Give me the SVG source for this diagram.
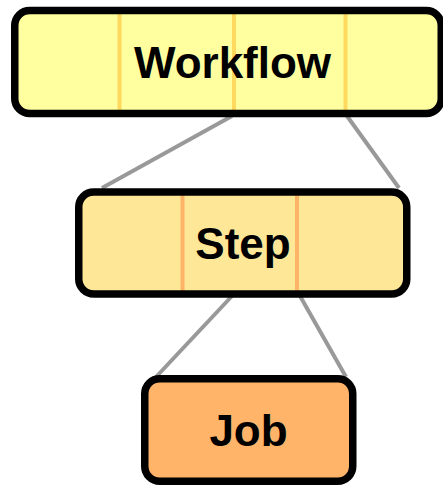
<svg xmlns="http://www.w3.org/2000/svg" width="443" height="486" viewBox="0 0 443 486">
  <style>
    .box { stroke: #000; stroke-width: 7.5; }
    .label { font-family: "Liberation Sans", Arial, sans-serif; font-weight: bold; font-size: 44px; fill: #000; text-anchor: middle; }
    .div-wf { stroke: #ffd95e; stroke-width: 4; }
    .div-step { stroke: #ffb366; stroke-width: 4; }
    .edge { stroke: #999; stroke-width: 4; fill: none; }
  </style>
  <rect width="443" height="486" fill="#fff"/>

  <!-- connectors between levels -->
  <g id="connectors">
    <line class="edge" x1="232" y1="116" x2="102" y2="188"/>
    <line class="edge" x1="347" y1="116" x2="399" y2="188"/>
    <line class="edge" x1="232" y1="296" x2="156" y2="377"/>
    <line class="edge" x1="300" y1="296" x2="346" y2="377"/>
  </g>

  <g id="workflow">
    <rect x="14.75" y="10.5" width="426.5" height="103" rx="15" fill="#ffffa0" stroke="none"/>
    <line class="div-wf" x1="119.5" y1="14" x2="119.5" y2="110"/>
    <line class="div-wf" x1="234" y1="14" x2="234" y2="110"/>
    <line class="div-wf" x1="345.5" y1="14" x2="345.5" y2="110"/>
    <rect class="box" x="14.75" y="10.5" width="426.5" height="103" rx="15" fill="none"/>
    <text class="label" x="232.5" y="78">Workflow</text>
  </g>

  <g id="step">
    <rect x="78.75" y="192" width="328" height="102" rx="15" fill="#fee897" stroke="none"/>
    <line class="div-step" x1="182.5" y1="195" x2="182.5" y2="291"/>
    <line class="div-step" x1="297" y1="195" x2="297" y2="291"/>
    <rect class="box" x="78.75" y="192" width="328" height="102" rx="15" fill="none"/>
    <text class="label" x="243" y="259">Step</text>
  </g>

  <g id="job">
    <rect class="box" x="144.75" y="378.75" width="208" height="102.5" rx="15" fill="#ffb469"/>
    <text class="label" x="248.5" y="446">Job</text>
  </g>
</svg>
